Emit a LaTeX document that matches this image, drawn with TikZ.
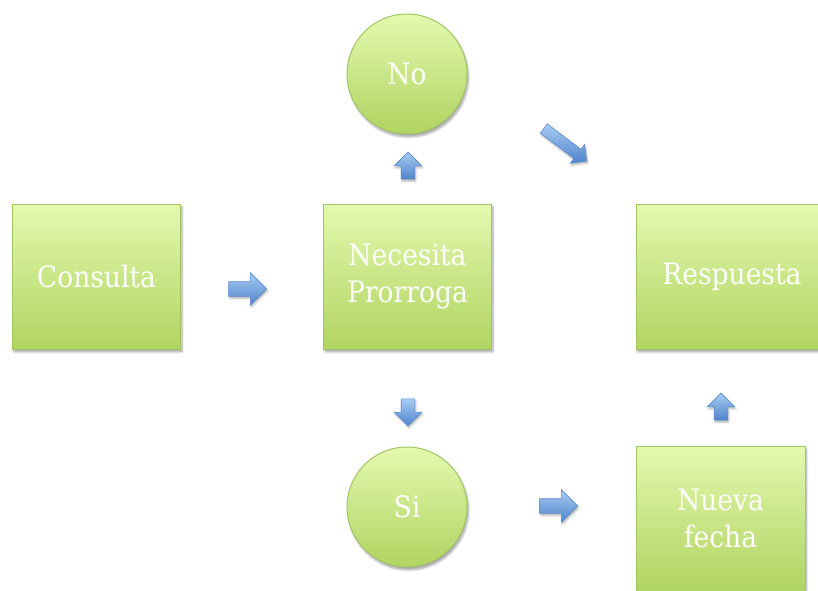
\documentclass[tikz,border=0pt]{standalone}
\usepackage{fontspec}
\setmainfont{DejaVu Serif Condensed}
\usetikzlibrary{shapes.arrows,shadows.blur}
\definecolor{gtop}{HTML}{E3F9AE}
\definecolor{gbot}{HTML}{B0D461}
\definecolor{gline}{HTML}{A3C566}
\definecolor{atop}{HTML}{A8CCF4}
\definecolor{abot}{HTML}{4F84CA}
\definecolor{aline}{HTML}{5B8CCF}
\tikzset{
  gshadow/.style={blur shadow={shadow xshift=1.5pt, shadow yshift=-3pt, shadow blur steps=6, shadow opacity=35}},
  gbox/.style={rectangle, draw=gline, line width=1pt, top color=gtop, bottom color=gbot,
    text=white, font=\fontsize{29.5}{37}\selectfont, align=center, inner sep=0pt,
    minimum width=168pt, minimum height=145pt, gshadow},
  gcirc/.style={circle, draw=gline, line width=1pt, top color=gtop, bottom color=gbot,
    text=white, font=\fontsize{29.5}{37}\selectfont, inner sep=0pt, minimum size=120pt, gshadow},
  barrow/.style={single arrow, draw=aline, line width=0.6pt, top color=atop, bottom color=abot,
    inner sep=7pt, minimum height=38pt, single arrow head extend=9pt,
    blur shadow={shadow xshift=1pt, shadow yshift=-2pt, shadow blur steps=4, shadow opacity=30}},
  sarrow/.style={barrow, inner sep=6.5pt, minimum height=27pt, single arrow head extend=7pt}
}
\begin{document}
\begin{tikzpicture}[x=1pt,y=1pt]
\useasboundingbox (0,0) rectangle (818,590);
\clip (0,0) rectangle (818,590);
\node[gbox] (consulta) at (96.5,313.5) {Consulta};
\node[gbox] (necesita) at (407.5,313.5) {Necesita\\Prorroga};
\node[gbox, minimum width=192pt] (respuesta) at (732,313.5) {Respuesta};
\node[gbox, minimum width=169pt] (nueva) at (720.5,71.5) {Nueva\\fecha};
\node[gcirc] (no) at (407,516) {No};
\node[gcirc] (si) at (407,83) {Si};
\node[barrow] (a1) at (244,301) {};
\node[sarrow, shape border rotate=90] (a2) at (408,421) {};
\node[sarrow, shape border rotate=270] (a3) at (408,181) {};
\node[barrow, inner sep=5.5pt, single arrow head extend=6pt, minimum height=54pt, rotate=-37] (a4) at (563,447) {};
\node[barrow] (a5) at (555,84) {};
\node[sarrow, shape border rotate=90] (a6) at (721,180) {};
\end{tikzpicture}
\end{document}
